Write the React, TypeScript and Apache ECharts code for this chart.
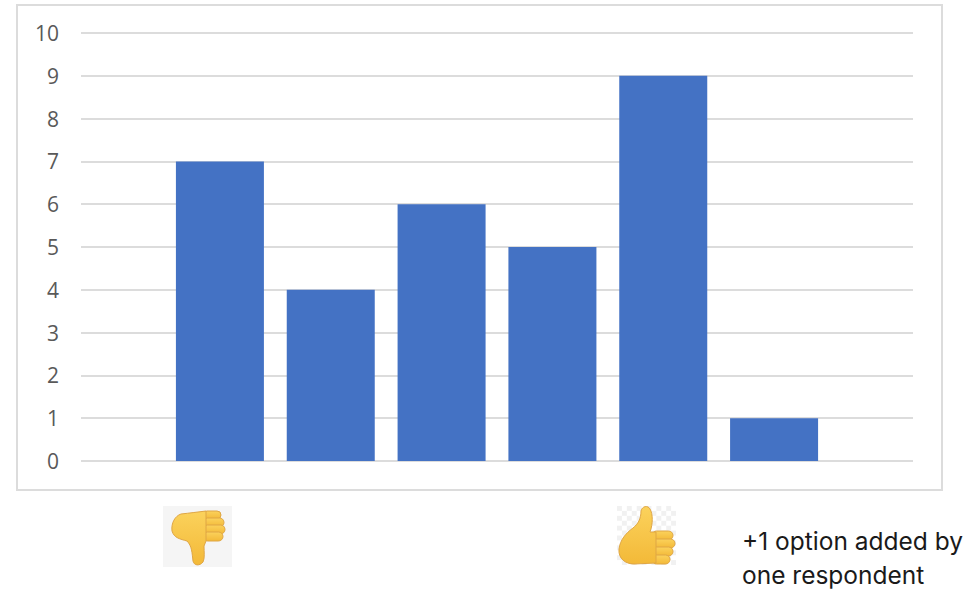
import React, { useEffect, useRef } from "react";
import * as echarts from "echarts";

const categories = ["Option 1", "Option 2", "Option 3", "Option 4", "Option 5", "Option 6"];
const responses = [7, 4, 6, 5, 9, 1];
const noteLines = ["+1 option added by", "one respondent"];

const upBody = "M619 549 C620 540 626 533 633 528 C638 524 641 519 641 511 C642 506 648 505 650 509 C653 514 653 524 650 532 L656 532 L656 563 L634 564 C626 564 618 559 619 549 Z";
const downBody = "M172 531 C171 523 175 516 181 514 C190 513 198 512 206 511 L206 541 L204 546 C204 552 205 558 203 562 C200 566 194 566 193 561 C192 553 192 546 187 541 C180 539 174 538 172 531 Z";

echarts.graphic.registerShape("upBody", echarts.graphic.extendPath(upBody, {}));
echarts.graphic.registerShape("downBody", echarts.graphic.extendPath(downBody, {}));

const hand = () =>
  new echarts.graphic.LinearGradient(0, 0, 0, 1, [
    { offset: 0, color: "#fbd25c" },
    { offset: 1, color: "#f3b938" },
  ]);
const edge = "#dfa645";

const finger = (x: number, y: number, width: number, height: number) => ({
  type: "rect",
  shape: { x, y, width, height, r: height / 2 },
  style: { fill: hand(), stroke: edge, lineWidth: 1 },
});

const checker: any[] = [];
for (let r = 0; r < 12; r++) {
  for (let c = 0; c < 12; c++) {
    if ((r + c) % 2 === 0) {
      checker.push({
        type: "rect",
        shape: { x: 617 + c * 4.92, y: 506 + r * 4.92, width: 4.92, height: 4.92 },
        style: { fill: "#f1f1f1" },
      });
    }
  }
}

export default function App() {
  const ref = useRef<HTMLDivElement>(null);
  useEffect(() => {
    const chart = echarts.init(ref.current!, undefined, { renderer: "svg" });
    chart.setOption({
      animation: false,
      backgroundColor: "#ffffff",
      grid: [
        { left: 81, right: 62, top: 33, height: 428 },
        { left: 164.5, right: 145.5, top: 33, height: 428 },
      ],
      xAxis: [
        { gridIndex: 0, type: "category", data: [], show: false },
        {
          gridIndex: 1,
          type: "category",
          data: categories,
          axisLine: { show: false },
          axisTick: { show: false },
          axisLabel: { show: false },
        },
      ],
      yAxis: [
        {
          gridIndex: 0,
          type: "value",
          min: 0,
          max: 10,
          interval: 1,
          axisLine: { show: false },
          axisTick: { show: false },
          axisLabel: {
            color: "#595959",
            fontFamily: "Open Sans",
            fontSize: 21,
            margin: 22,
          },
          splitLine: { lineStyle: { color: "#dcdcdc", width: 2 } },
        },
        { gridIndex: 1, type: "value", min: 0, max: 10, interval: 1, show: false },
      ],
      series: [
        {
          type: "bar",
          xAxisIndex: 1,
          yAxisIndex: 1,
          data: responses,
          barWidth: 88,
          itemStyle: { color: "#4472c4" },
        },
      ],
      graphic: [
        {
          type: "rect",
          z: -1,
          shape: { x: 17, y: 5, width: 925, height: 485 },
          style: { fill: "#ffffff", stroke: "#dcdcdc", lineWidth: 2 },
        },
        { type: "rect", shape: { x: 163, y: 506, width: 69, height: 61 }, style: { fill: "#f5f5f5" } },
        finger(203, 511, 18, 8),
        finger(203, 518, 21, 9),
        finger(203, 525, 22, 9),
        finger(203, 532, 20, 9),
        { type: "downBody", x: 0, y: 0, style: { fill: hand(), stroke: edge, lineWidth: 1 } },
        ...checker,
        finger(652, 531, 21, 9),
        finger(652, 539, 23, 9),
        finger(652, 547, 21, 9),
        finger(652, 555, 18, 9),
        { type: "upBody", x: 0, y: 0, style: { fill: hand(), stroke: edge, lineWidth: 1 } },
        {
          type: "text",
          x: 742,
          y: 541,
          style: {
            text: noteLines[0],
            fill: "#1a1a1a",
            font: '24.5px "Inter"',
            textVerticalAlign: "middle",
          },
        },
        {
          type: "text",
          x: 742,
          y: 575,
          style: {
            text: noteLines[1],
            fill: "#1a1a1a",
            font: '24.5px "Inter"',
            textVerticalAlign: "middle",
          },
        },
      ],
    });
    return () => chart.dispose();
  }, []);
  return <div ref={ref} style={{ position: "fixed", left: 0, top: 0, width: 975, height: 590 }} />;
}
